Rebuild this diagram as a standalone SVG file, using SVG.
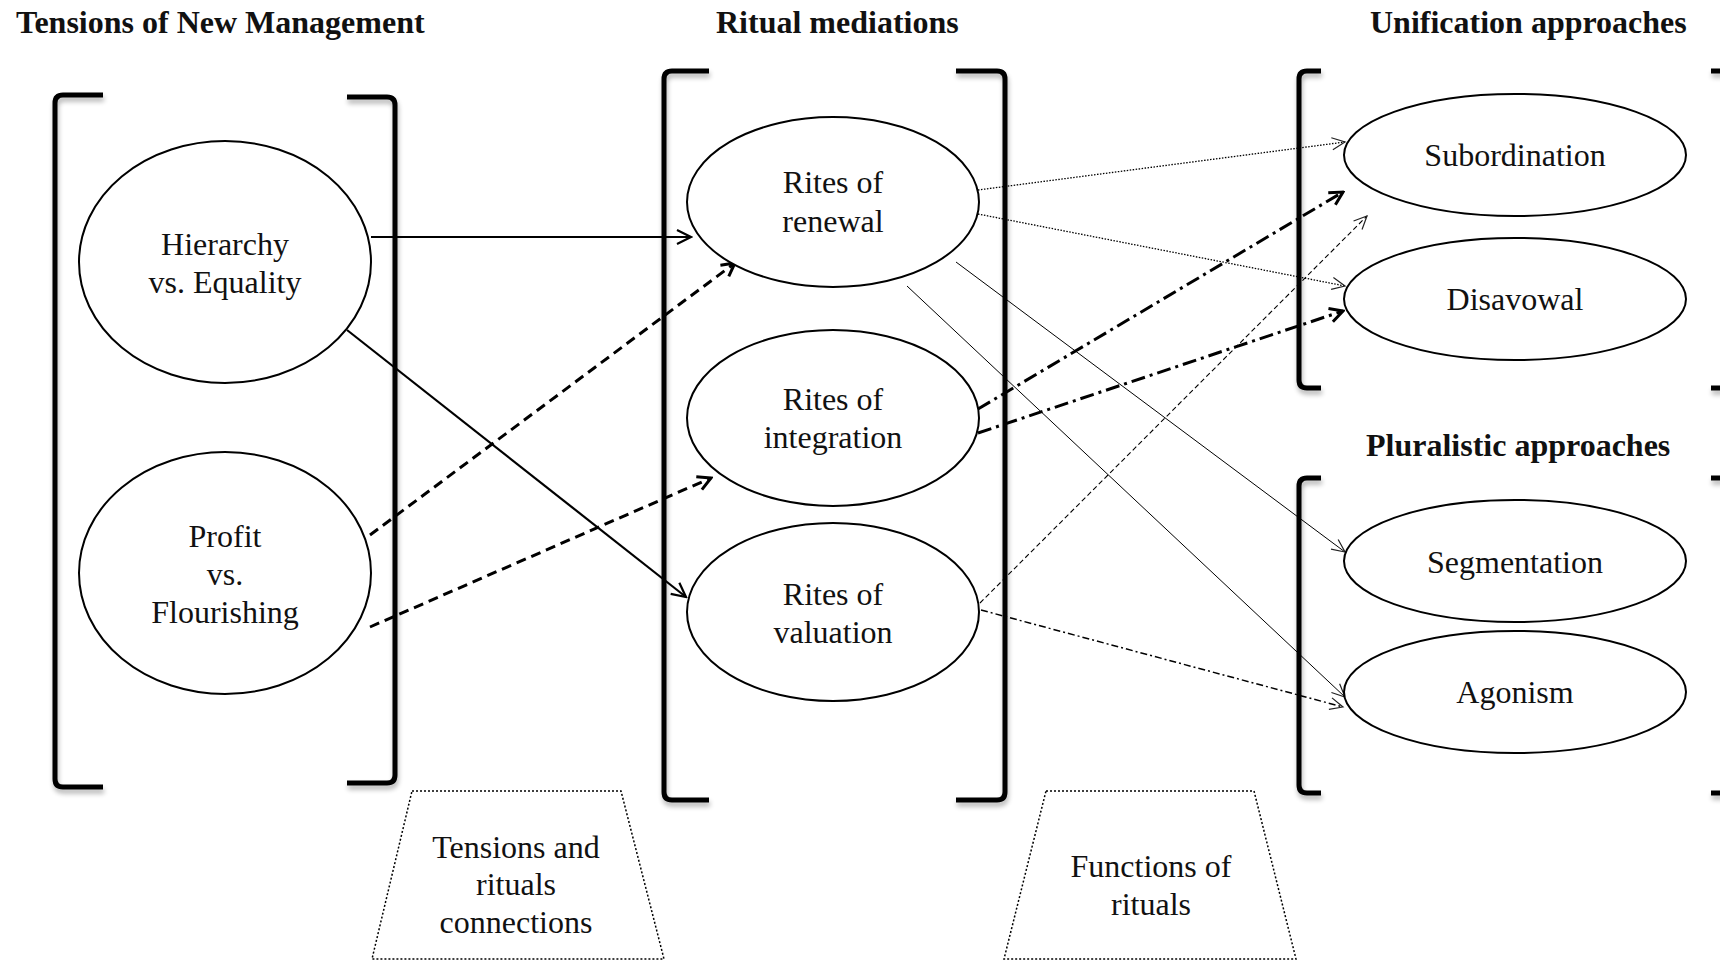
<svg xmlns="http://www.w3.org/2000/svg" width="1720" height="961" viewBox="0 0 1720 961">
<defs>
<style>
.t{font-family:"Liberation Serif","Times New Roman",serif;font-size:32px;fill:#111;text-anchor:middle}
.h{font-family:"Liberation Serif","Times New Roman",serif;font-size:32px;font-weight:bold;fill:#111}
.br{fill:none;stroke:#000;stroke-width:5}
.el{fill:#fff;stroke:#000;stroke-width:2}
.tz{fill:none;stroke:#000;stroke-width:1.5;stroke-dasharray:2 2}
.c{fill:none;stroke:#000}
</style>
<filter id="sh" x="-20%" y="-20%" width="140%" height="140%">
<feGaussianBlur in="SourceAlpha" stdDeviation="2.5"/>
<feOffset dx="1" dy="4" result="o"/>
<feComponentTransfer><feFuncA type="linear" slope="0.3"/></feComponentTransfer>
<feMerge><feMergeNode/><feMergeNode in="SourceGraphic"/></feMerge>
</filter>
<marker id="aT" viewBox="-16 -10 18 20" refX="0" refY="0" markerWidth="18" markerHeight="20" markerUnits="userSpaceOnUse" orient="auto">
<path d="M-14,-7 L0,0 L-14,7" fill="none" stroke="#000" stroke-width="2.2"/>
</marker>
<marker id="aB" viewBox="-16 -10 18 20" refX="0" refY="0" markerWidth="18" markerHeight="20" markerUnits="userSpaceOnUse" orient="auto">
<path d="M-13,-7 L0,0 L-13,7" fill="none" stroke="#000" stroke-width="3"/>
</marker>
<marker id="aS" viewBox="-16 -10 18 20" refX="0" refY="0" markerWidth="18" markerHeight="20" markerUnits="userSpaceOnUse" orient="auto">
<path d="M-13,-6 L0,0 L-13,6" fill="none" stroke="#222" stroke-width="1.2"/>
</marker>
</defs>
<rect width="1720" height="961" fill="#fff"/>

<g id="titles">
<text class="h" x="16" y="33">Tensions of New Management</text>
<text class="h" x="716" y="33">Ritual mediations</text>
<text class="h" x="1370" y="33">Unification approaches</text>
<text class="h" x="1366" y="456">Pluralistic approaches</text>
</g>

<g id="brackets" filter="url(#sh)">
<path class="br" d="M103,95 H63 Q55,95 55,103 V779 Q55,787 63,787 H103"/>
<path class="br" d="M347,97 H387 Q395,97 395,105 V775 Q395,783 387,783 H347"/>
<path class="br" d="M709,71 H672 Q664,71 664,79 V792 Q664,800 672,800 H709"/>
<path class="br" d="M956,71 H997 Q1005,71 1005,79 V792 Q1005,800 997,800 H956"/>
<path class="br" d="M1321,71 H1307 Q1299,71 1299,79 V380 Q1299,388 1307,388 H1321"/>
<path class="br" d="M1711,71 H1727 Q1735,71 1735,79 V380 Q1735,388 1727,388 H1711"/>
<path class="br" d="M1321,478 H1307 Q1299,478 1299,486 V785 Q1299,793 1307,793 H1321"/>
<path class="br" d="M1711,478 H1727 Q1735,478 1735,486 V785 Q1735,793 1727,793 H1711"/>
</g>

<g id="connectors">
<line class="c" x1="371" y1="237" x2="691" y2="237" stroke-width="2.2" marker-end="url(#aT)"/>
<line class="c" x1="347" y1="330" x2="686" y2="597" stroke-width="2.2" marker-end="url(#aT)"/>
<line class="c" x1="370" y1="535" x2="735" y2="263" stroke-width="3" stroke-dasharray="10 6" marker-end="url(#aB)"/>
<line class="c" x1="370" y1="627" x2="711" y2="478" stroke-width="3" stroke-dasharray="10 6" marker-end="url(#aB)"/>
<line class="c" x1="978" y1="190" x2="1345" y2="142" stroke="#555" stroke-width="1.3" stroke-dasharray="1.5 1.5" marker-end="url(#aS)"/>
<line class="c" x1="978" y1="214" x2="1345" y2="286" stroke="#555" stroke-width="1.3" stroke-dasharray="1.5 1.5" marker-end="url(#aS)"/>
<line class="c" x1="956" y1="262" x2="1345" y2="552" stroke="#333" stroke-width="1" marker-end="url(#aS)"/>
<line class="c" x1="907" y1="286" x2="1345" y2="697" stroke="#333" stroke-width="1" marker-end="url(#aS)"/>
<line class="c" x1="978" y1="409" x2="1343" y2="192" stroke-width="3" stroke-dasharray="14 5 3 5" marker-end="url(#aB)"/>
<line class="c" x1="978" y1="433" x2="1343" y2="311" stroke-width="3" stroke-dasharray="14 5 3 5" marker-end="url(#aB)"/>
<line class="c" x1="980" y1="603" x2="1367" y2="216" stroke="#222" stroke-width="1.1" stroke-dasharray="5 3" marker-end="url(#aS)"/>
<line class="c" x1="981" y1="610" x2="1343" y2="707" stroke="#222" stroke-width="1.5" stroke-dasharray="7 3 2 3" marker-end="url(#aS)"/>
</g>

<g id="n-hierarchy">
<ellipse class="el" cx="225" cy="262" rx="146" ry="121"/>
<text class="t" x="225" y="255">Hierarchy</text>
<text class="t" x="225" y="293">vs. Equality</text>
</g>
<g id="n-profit">
<ellipse class="el" cx="225" cy="573" rx="146" ry="121"/>
<text class="t" x="225" y="547">Profit</text>
<text class="t" x="225" y="585">vs.</text>
<text class="t" x="225" y="623">Flourishing</text>
</g>
<g id="n-renewal">
<ellipse class="el" cx="833" cy="202" rx="146" ry="85"/>
<text class="t" x="833" y="193">Rites of</text>
<text class="t" x="833" y="232">renewal</text>
</g>
<g id="n-integration">
<ellipse class="el" cx="833" cy="418" rx="146" ry="88"/>
<text class="t" x="833" y="410">Rites of</text>
<text class="t" x="833" y="448">integration</text>
</g>
<g id="n-valuation">
<ellipse class="el" cx="833" cy="612" rx="146" ry="89"/>
<text class="t" x="833" y="605">Rites of</text>
<text class="t" x="833" y="643">valuation</text>
</g>
<g id="n-subordination">
<ellipse class="el" cx="1515" cy="155" rx="171" ry="61"/>
<text class="t" x="1515" y="166">Subordination</text>
</g>
<g id="n-disavowal">
<ellipse class="el" cx="1515" cy="299" rx="171" ry="61"/>
<text class="t" x="1515" y="310">Disavowal</text>
</g>
<g id="n-segmentation">
<ellipse class="el" cx="1515" cy="561" rx="171" ry="61"/>
<text class="t" x="1515" y="573">Segmentation</text>
</g>
<g id="n-agonism">
<ellipse class="el" cx="1515" cy="692" rx="171" ry="61"/>
<text class="t" x="1515" y="703">Agonism</text>
</g>

<g id="n-tensions-rituals">
<polygon class="tz" points="412,791 621,791 664,959 372,959"/>
<text class="t" x="516" y="858">Tensions and</text>
<text class="t" x="516" y="895">rituals</text>
<text class="t" x="516" y="933">connections</text>
</g>
<g id="n-functions">
<polygon class="tz" points="1046,791 1254,791 1296,959 1004,959"/>
<text class="t" x="1151" y="877">Functions of</text>
<text class="t" x="1151" y="915">rituals</text>
</g>
</svg>
